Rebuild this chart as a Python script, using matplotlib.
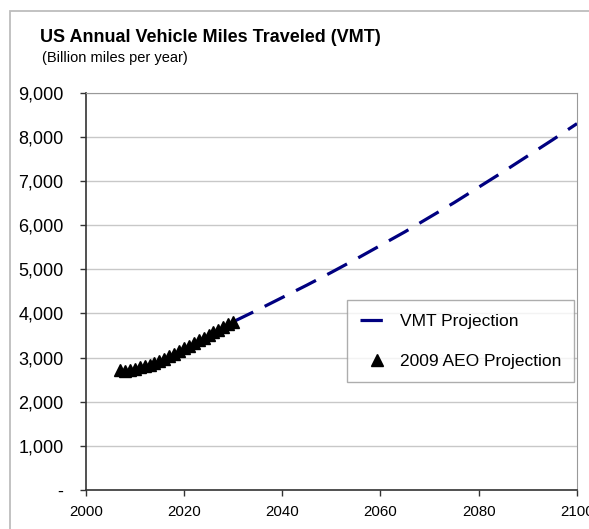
import numpy as np
import matplotlib.pyplot as plt
from matplotlib.patches import Rectangle
from matplotlib.ticker import FuncFormatter

plt.rcParams['font.family'] = ['Liberation Sans', 'DejaVu Sans']

# 2009 AEO projection (billion miles per year)
aeo_years = list(range(2007, 2031))
aeo_vmt = [2710, 2690, 2720, 2750, 2780, 2800, 2830, 2870, 2920, 2970, 3030, 3090,
           3150, 3210, 3270, 3330, 3390, 3450, 3510, 3570, 3630, 3690, 3750, 3810]

# long-term VMT projection
proj_years = [2030, 2035, 2040, 2045, 2050, 2055, 2060, 2065, 2070, 2075, 2080, 2085, 2090, 2095, 2100]
proj_vmt = [3810, 4080, 4360, 4640, 4930, 5230, 5540, 5850, 6180, 6510, 6860, 7210, 7570, 7930, 8300]

x_ticks = [2000, 2020, 2040, 2060, 2080, 2100]
y_ticks = [0, 1000, 2000, 3000, 4000, 5000, 6000, 7000, 8000, 9000]

fig = plt.figure(figsize=(5.89, 5.29), dpi=100)
ax = fig.add_axes([85.7/589, 1-490/529, (577-85.7)/589, (490-92.7)/529])

# outer chart border
fig.patches.append(Rectangle((9.5/589, -0.1), 1.2, 1-10.5/529+0.1, transform=fig.transFigure,
                             fill=False, edgecolor='#bdbdbd', linewidth=1.3))

ax.plot(proj_years, proj_vmt, color='#000080', linewidth=2.3, dashes=(7, 4),
        label='VMT Projection', zorder=3)
ax.plot(aeo_years, aeo_vmt, linestyle='none', marker='^', markersize=8, color='black',
        label='2009 AEO Projection', zorder=4)

ax.set_xlim(2000, 2100)
ax.set_ylim(0, 9000)
ax.set_xticks(x_ticks)
ax.set_yticks(y_ticks)
ax.yaxis.set_major_formatter(FuncFormatter(lambda v, p: '-' if v == 0 else f'{int(v):,}'))
ax.grid(axis='y', color='#c8c8c8', linewidth=1)
ax.set_axisbelow(True)
ax.tick_params(axis='both', direction='out', length=4, width=1, colors='#333333',
               labelcolor='black')
ax.tick_params(axis='y', labelsize=13, pad=12)
ax.tick_params(axis='x', labelsize=10.8, pad=7)
for s in ['top', 'right']:
    ax.spines[s].set_color('#999999')
for s in ['left', 'bottom']:
    ax.spines[s].set_color('#333333')
    ax.spines[s].set_linewidth(1.2)

leg = ax.legend(loc='upper left', bbox_to_anchor=(0.532, 0.477), fontsize=12.5,
                frameon=True, fancybox=False, edgecolor='#999999', borderpad=0.75,
                labelspacing=1.45, handlelength=2.0, handletextpad=0.3, borderaxespad=0)
leg.get_frame().set_linewidth(1)

fig.text(40/589, 1-37/529, 'US Annual Vehicle Miles Traveled (VMT)', fontsize=13,
         fontweight='bold', va='center', ha='left')
fig.text(42/589, 1-58/529, '(Billion miles per year)', fontsize=10.5, va='center', ha='left')

fig.savefig('out.png', dpi=100)
